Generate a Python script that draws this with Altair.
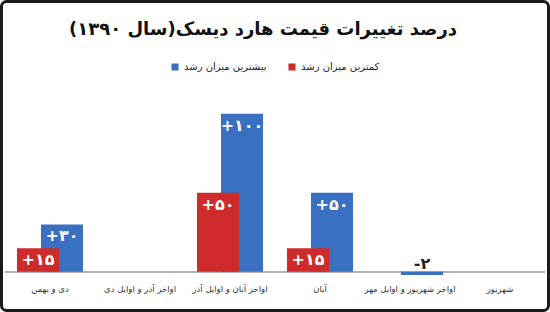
import altair as alt
import pandas as pd

categories = ["دی و بهمن", "اواخر آذر و اوایل دی", "اواخر آبان و اوایل آذر",
              "آبان", "اواخر شهریور و اوایل مهر", "شهریور"]
max_values = [30, None, 100, 50, -2, None]
min_values = [15, None, 50, 15, None, None]
series_names = ["بیشترین میزان رشد", "کمترین میزان رشد"]
colors = ["#3a70c2", "#d02b2b"]
title_text = "درصد تغییرات قیمت هارد دیسک(سال ۱۳۹۰)"

FA = str.maketrans("0123456789", "۰۱۲۳۴۵۶۷۸۹")


def fa_label(v):
    s = str(abs(int(v))).translate(FA)
    return ("+" if v > 0 else "-") + s


rows = []
for c, mx, mn in zip(categories, max_values, min_values):
    if mx is not None:
        rows.append({"cat": c, "series": series_names[0], "value": mx,
                     "label": fa_label(mx), "zero": 0})
    if mn is not None:
        rows.append({"cat": c, "series": series_names[1], "value": mn,
                     "label": fa_label(mn), "zero": 0})
df = pd.DataFrame(rows)

FONT = "DejaVu Sans"

xenc = alt.X("cat:N", sort=categories,
             scale=alt.Scale(domain=categories, paddingInner=0, paddingOuter=0),
             axis=alt.Axis(title=None, domain=False, ticks=False, labelAngle=0,
                           labelFont=FONT, labelFontSize=8.5, labelColor="#333",
                           labelPadding=9, labelLimit=200))
yscale = alt.Scale(domain=[-2, 110], nice=False, zero=False)
yenc = alt.Y("value:Q", scale=yscale, axis=None)
y2enc = alt.Y2("zero:Q")
color = alt.Color("series:N", scale=alt.Scale(domain=series_names, range=colors),
                  legend=alt.Legend(title=None, orient="none", direction="horizontal",
                                    legendX=165, legendY=-36, symbolType="square",
                                    symbolSize=50, symbolStrokeWidth=0,
                                    labelFont=FONT, labelFontSize=10, labelColor="#222",
                                    columnPadding=20, labelOffset=4))

base = alt.Chart(df)

blue = base.transform_filter(alt.datum.series == series_names[0])
red = base.transform_filter(alt.datum.series == series_names[1])

blue_bars = blue.mark_bar(width=42, xOffset=12).encode(x=xenc, y=yenc, y2=y2enc, color=color)
red_bars = red.mark_bar(width=42, xOffset=-12).encode(x=xenc, y=yenc, y2=y2enc, color=color)

lab_kw = dict(font=FONT, fontWeight="bold", fontSize=16, baseline="middle", align="center")
blue_lab = blue.transform_filter(alt.datum.value > 0).mark_text(
    color="white", dy=12, xOffset=12, **lab_kw).encode(x=xenc, y=yenc, text="label:N")
blue_neg = blue.transform_filter(alt.datum.value < 0).mark_text(
    color="#222", dy=-8, xOffset=12, **lab_kw).encode(
    x=xenc, y=alt.Y("zero:Q", scale=yscale, axis=None), text="label:N")
red_lab = red.transform_filter(alt.datum.value > 0).mark_text(
    color="white", dy=12, xOffset=-12, **lab_kw).encode(x=xenc, y=yenc, text="label:N")

baseline = base.mark_rule(color="#b0b0b0", strokeWidth=1).encode(
    y=alt.Y("zero:Q", scale=yscale, axis=None))

frame = alt.Chart(pd.DataFrame({"f": [0]})).mark_rect(
    fillOpacity=0, stroke="#1a1a1a", strokeWidth=3, cornerRadius=5).encode(
    x=alt.value(-3.5), x2=alt.value(543.5), y=alt.value(-96.5), y2=alt.value(212.5))

chart = alt.layer(baseline, blue_bars, blue_lab, blue_neg, red_bars, red_lab, frame).properties(
    width=540, height=177,
    padding={"left": 5, "top": 98, "right": 5, "bottom": 37},
    autosize="none",
    title=alt.TitleParams(title_text, font=FONT, fontSize=18, fontWeight="bold",
                          color="#111", anchor="middle", offset=-39, dx=-12),
).configure_view(stroke=None)

chart.save("out.html", embed_options={"renderer": "svg", "actions": False})
